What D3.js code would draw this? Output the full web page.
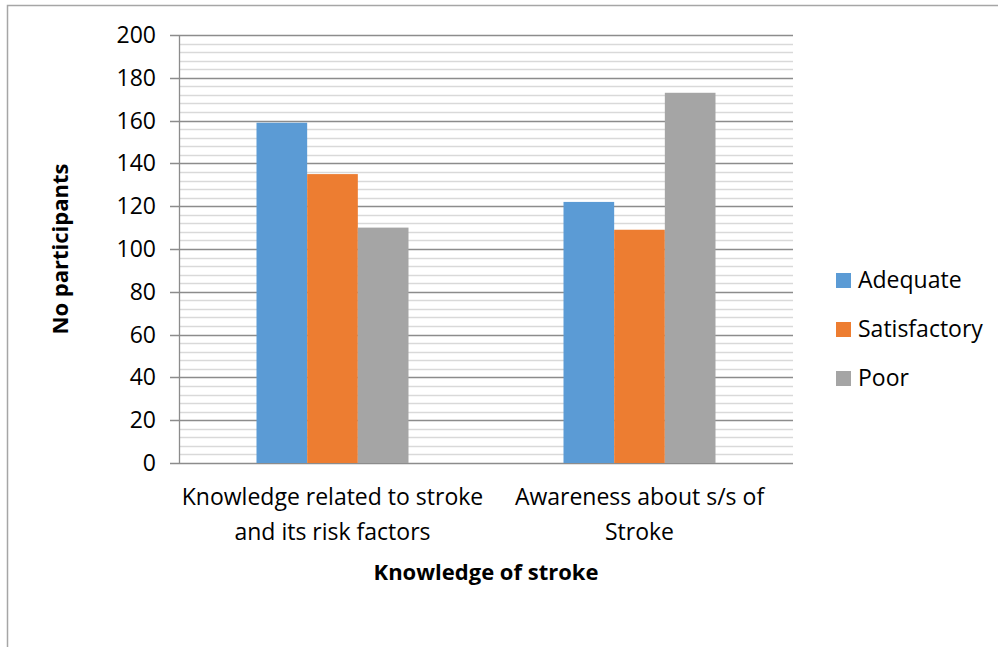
<!DOCTYPE html>
<html><head><meta charset="utf-8">
<script src="https://cdn.jsdelivr.net/npm/d3@7"></script>
<style>body{margin:0;background:#fff}svg{display:block}text{font-family:"Open Sans",sans-serif;fill:#000}</style>
</head><body>
<svg id="c" width="998" height="647"></svg>
<script>
const categories = [["Knowledge related to stroke","and its risk factors"],["Awareness about s/s of","Stroke"]];
const series = ["Adequate","Satisfactory","Poor"];
const colors = ["#5B9BD5","#ED7D31","#A5A5A5"];
const adequate = [159,122];
const satisfactory = [135,109];
const poor = [110,173];
const yTicks = [0,20,40,60,80,100,120,140,160,180,200];
const values = [adequate, satisfactory, poor];

const svg = d3.select("#c");
const L=179,R=793,T=35,B=463;
svg.append("path").attr("d","M7.5,647V5.5H998").attr("fill","none").attr("stroke","#a6a6a6").attr("stroke-width",1.5);

const y = d3.scaleLinear().domain([0,200]).range([B,T]);
const x0 = d3.scaleBand().domain(d3.range(categories.length)).range([L,R]);
const x1 = d3.scaleBand().domain(d3.range(series.length)).range([0,152]);

const minor = d3.range(0,201,4).filter(v=>v%20!==0);
svg.append("g").selectAll("line").data(minor).join("line")
  .attr("x1",L).attr("x2",R).attr("y1",d=>Math.round(y(d))+0.5).attr("y2",d=>Math.round(y(d))+0.5)
  .attr("stroke","#d9d9d9").attr("stroke-width",1.3);
svg.append("g").selectAll("line").data(yTicks).join("line")
  .attr("x1",170).attr("x2",R).attr("y1",d=>Math.round(y(d))+0.5).attr("y2",d=>Math.round(y(d))+0.5)
  .attr("stroke","#8c8c8c").attr("stroke-width",1.3);
svg.append("line").attr("x1",L+0.5).attr("x2",L+0.5).attr("y1",T).attr("y2",B).attr("stroke","#8c8c8c").attr("stroke-width",1.3);

series.forEach((s,i)=>{
  svg.append("g").selectAll("rect").data(values[i]).join("rect")
    .attr("x",(d,j)=>x0(j)+(x0.bandwidth()-152)/2+x1(i))
    .attr("width",x1.bandwidth())
    .attr("y",d=>y(d)).attr("height",d=>B-y(d))
    .attr("fill",colors[i]);
});

svg.append("g").selectAll("text").data(yTicks).join("text")
  .attr("x",156).attr("y",d=>y(d)+8).attr("text-anchor","end")
  .style("font-size","23px").text(d=>d);

categories.forEach((c,j)=>{
  c.forEach((line,k)=>{
    svg.append("text").attr("x",x0(j)+x0.bandwidth()/2).attr("y",505+k*35)
      .attr("text-anchor","middle").style("font-size","23px").text(line);
  });
});

svg.append("text").attr("x",(L+R)/2).attr("y",580).attr("text-anchor","middle")
  .style("font-size","22px").style("font-weight","bold").text("Knowledge of stroke");
svg.append("text").attr("transform",`translate(68,${(T+B)/2}) rotate(-90)`).attr("text-anchor","middle")
  .style("font-size","22px").style("font-weight","bold").text("No participants");

series.forEach((s,i)=>{
  const ly = 280 + i*49;
  svg.append("rect").attr("x",836).attr("y",ly-7).attr("width",15).attr("height",15).attr("fill",colors[i]);
  svg.append("text").attr("x",858).attr("y",ly+8).style("font-size","23px").text(s);
});
</script>
</body></html>
